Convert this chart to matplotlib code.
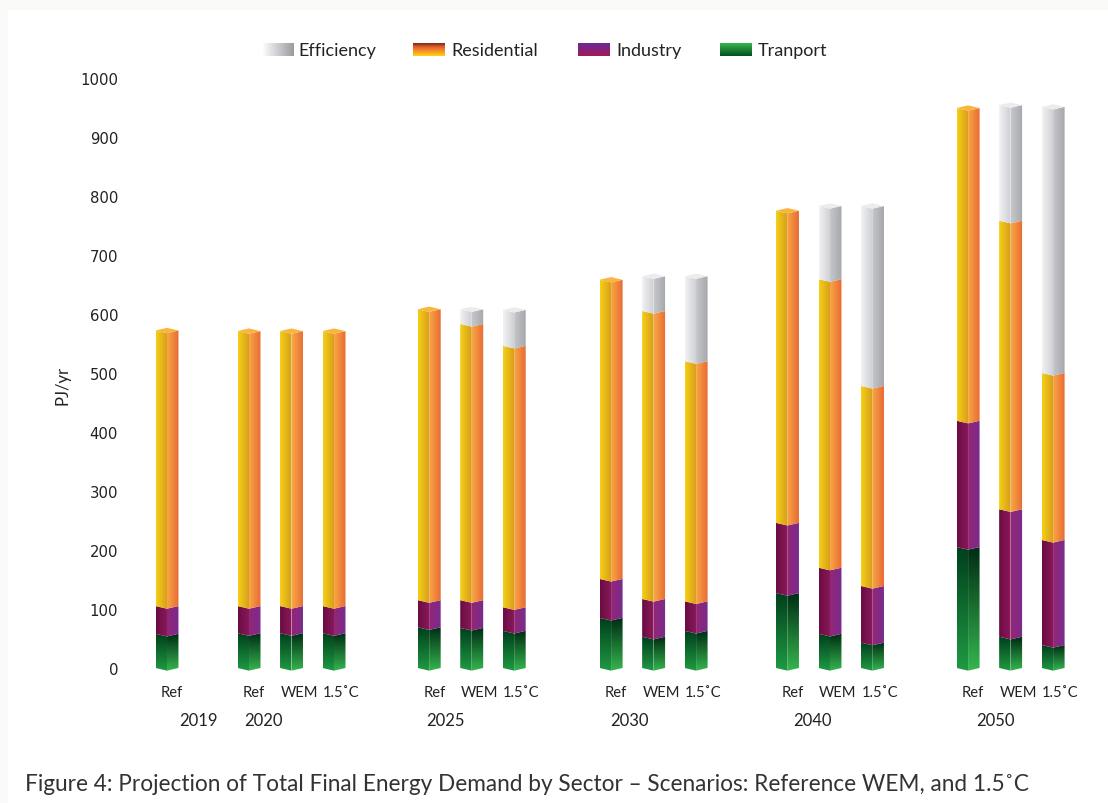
import numpy as np
import matplotlib.pyplot as plt
from matplotlib.patches import Polygon, Rectangle
from matplotlib.colors import LinearSegmentedColormap
from matplotlib.transforms import blended_transform_factory

plt.rcParams['font.family'] = ['Lato', 'DejaVu Sans']

# Projection years and scenario per bar
years = ['2019', '2020', '2025', '2030', '2040', '2050']
bar_labels = ['Ref',
              'Ref', 'WEM', '1.5˚C',
              'Ref', 'WEM', '1.5˚C',
              'Ref', 'WEM', '1.5˚C',
              'Ref', 'WEM', '1.5˚C',
              'Ref', 'WEM', '1.5˚C']

# Final energy demand by sector, PJ/yr
transport   = [58, 59, 59, 59, 69, 68, 63, 85, 53, 63, 127, 58, 43, 205, 53, 39]
industry    = [47, 46, 46, 46, 46, 47, 40, 66, 64, 50, 119, 112, 96, 214, 216, 178]
residential = [467, 466, 466, 466, 493, 468, 443, 507, 488, 407, 529, 489, 339, 530, 489, 283]
efficiency  = [0, 0, 0, 0, 0, 25, 61, 0, 59, 144, 0, 124, 305, 0, 196, 451]

# bar positions (groups of scenarios with a gap between years)
group_start = [0, 1.93, 6.17, 10.45, 14.6, 18.85]
group_size = [1, 3, 3, 3, 3, 3]
xpos = []
for s, n in zip(group_start, group_size):
    xpos += [s + i for i in range(n)]
year_x = [0.75, 2.26, 6.56, 10.87, 15.18, 19.5]
# labels sit a little right of their bars
label_shift = {'Ref': 0.12, 'WEM': 0.18, '1.5˚C': 0.17}

W = 0.54   # bar width
D = 4.5    # depth of the bevel, data units

# (left face colours, right face colours, vertical gradient?)
styles = {
    'Transport':   (['#1f9a43', '#00401c'], ['#35b54f', '#002e14'], True),
    'Industry':    (['#6b0c42', '#8a1a5c'], ['#922676', '#7a2c8e'], False),
    'Residential': (['#f5cf16', '#d69c1d'], ['#f8a745', '#e86a34'], False),
    'Efficiency':  (['#f2f2f4', '#cdced2'], ['#c6c7cb', '#a6a7ab'], False),
}
cap_colors = {'Residential': '#f9b53c', 'Efficiency': '#ececee',
              'Industry': '#9a3a88', 'Transport': '#2a8a40'}


def shade(ax, xy, colors, vertical=False, z=2):
    xy = np.asarray(xy, dtype=float)
    poly = Polygon(xy, closed=True, facecolor='none', edgecolor='none')
    ax.add_patch(poly)
    cmap = LinearSegmentedColormap.from_list('g', colors)
    g = np.linspace(0, 1, 64)
    img = g[:, None] if vertical else g[None, :]
    im = ax.imshow(img, cmap=cmap, origin='lower', aspect='auto',
                   interpolation='bilinear', zorder=z,
                   extent=[xy[:, 0].min(), xy[:, 0].max(),
                           xy[:, 1].min(), xy[:, 1].max()])
    im.set_clip_path(poly)


fig = plt.figure(figsize=(11.08, 8.04), dpi=100)
fig.patch.set_facecolor('#f9f9f7')
fig.patches.append(Rectangle((8 / 1108, 0), 1, 1 - 11 / 804,
                             transform=fig.transFigure, facecolor='white',
                             edgecolor='none', zorder=-10))

ax = fig.add_axes([125 / 1108, 0.1591, 965 / 1108, 0.7427])
ax.set_facecolor('none')

sectors = [('Transport', transport), ('Industry', industry),
           ('Residential', residential), ('Efficiency', efficiency)]

for i, x in enumerate(xpos):
    x0, xm, x1 = x - W / 2, x, x + W / 2
    base = 0
    top_sector = None
    for name, vals in sectors:
        v = vals[i]
        if v <= 0:
            continue
        lc, rc, vert = styles[name]
        y0, y1 = base, base + v
        shade(ax, [(x0, y0), (xm, y0 - D), (xm, y1 - D), (x0, y1)], lc, vert)
        shade(ax, [(xm, y0 - D), (x1, y0), (x1, y1), (xm, y1 - D)], rc, vert)
        base = y1
        top_sector = name
    # top cap
    ax.add_patch(Polygon([(x0, base), (xm, base - D), (x1, base), (xm, base + D)],
                         closed=True, facecolor=cap_colors[top_sector],
                         edgecolor='none', zorder=3))

ax.set_xlim(-0.988, 21.718)
ax.set_ylim(-12, 1000)
ax.set_yticks(np.arange(0, 1001, 100))
ax.set_yticklabels([str(v) for v in range(0, 1001, 100)],
                   fontsize=10.7, color='#222222', family='DejaVu Sans')
ax.set_xticks([x + label_shift[l] for x, l in zip(xpos, bar_labels)])
ax.set_xticklabels(bar_labels, fontsize=10.6, color='#222222')
ax.tick_params(axis='both', length=0)
ax.tick_params(axis='y', pad=5)
ax.tick_params(axis='x', pad=7)
for sp in ax.spines.values():
    sp.set_visible(False)

year_tr = blended_transform_factory(ax.transData, fig.transFigure)
for yx, yr in zip(year_x, years):
    ax.text(yx, 1 - 721 / 804, yr, transform=year_tr,
            ha='center', va='center', fontsize=12, color='#222222')

fig.text(62 / 1108, 1 - 385 / 804, 'PJ/yr', rotation=90, ha='center',
         va='center', fontsize=12, color='#222222')

# legend with gradient swatches
legend_items = [
    ('Efficiency', 262, 298, ['#ffffff', '#9a9ba0'], False),
    ('Residential', 413, 451, ['#ffd60a', '#f59a2c', '#e8642a', '#7a2a1c'], True),
    ('Industry', 578, 616, ['#a3185a', '#6a2a96'], True),
    ('Tranport', 720, 758, ['#005020', '#3ab54a'], True),
]
for label, sx, tx, cols, vert in legend_items:
    sax = fig.add_axes([sx / 1108, 1 - 57 / 804, 32 / 1108, 13 / 804])
    g = np.linspace(0, 1, 64)
    img = g[:, None] if vert else g[None, :]
    sax.imshow(img, cmap=LinearSegmentedColormap.from_list('l', cols),
               origin='lower', aspect='auto', interpolation='bilinear')
    sax.axis('off')
    fig.text(tx / 1108, 1 - 51 / 804, label, ha='left', va='center',
             fontsize=13, color='#222222')

fig.text(25 / 1108, 1 - 785 / 804,
         'Figure 4: Projection of Total Final Energy Demand by Sector – Scenarios: Reference WEM, and 1.5˚C',
         ha='left', va='center', fontsize=16.3, color='#333333')

fig.savefig('out.png', dpi=100, facecolor=fig.get_facecolor())
